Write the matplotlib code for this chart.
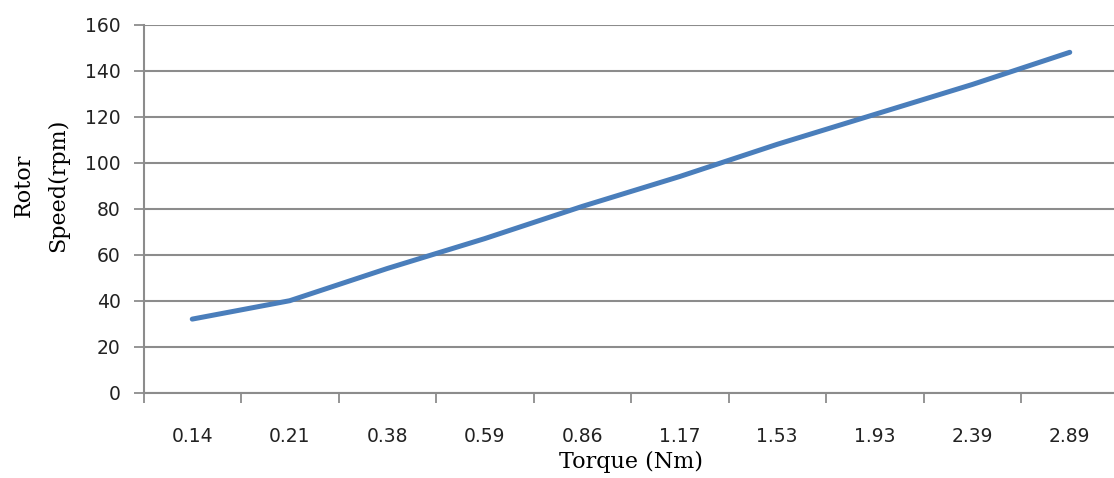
import matplotlib
matplotlib.use("Agg")
import matplotlib.pyplot as plt
import numpy as np

torque = ["0.14", "0.21", "0.38", "0.59", "0.86", "1.17", "1.53", "1.93", "2.39", "2.89"]
speed = [32, 40, 54, 67, 81, 94, 108, 121, 134, 148]

fig = plt.figure(figsize=(11.14, 4.78), dpi=100)
ax = fig.add_axes([143.5 / 1114, 85.3 / 478, 975 / 1114, 368 / 478])

x = np.arange(len(torque)) + 0.5
ax.plot(x, speed, color="#4a7ebb", linewidth=3.6, solid_capstyle="round", solid_joinstyle="round", zorder=3)

ax.set_xlim(0, len(torque))
ax.set_ylim(0, 160)
ax.set_yticks(range(0, 161, 20))
ax.yaxis.grid(True, color="#8c8c8c", linewidth=1.5)
ax.set_axisbelow(True)

# category boundaries get the tick marks, labels sit in between
ax.set_xticks(np.arange(len(torque) + 1))
ax.set_xticklabels([])
ax.set_xticks(x, minor=True)
ax.set_xticklabels(torque, minor=True)
ax.tick_params(axis="x", which="major", length=7, width=1.3, color="#8c8c8c")
ax.tick_params(axis="x", which="minor", length=0, pad=24.5, labelsize=13.5, labelcolor="#222222")
ax.tick_params(axis="y", length=7.5, width=1.3, color="#8c8c8c", labelsize=13.5, labelcolor="#222222", pad=9)

for s in ["top", "right"]:
    ax.spines[s].set_visible(False)
for s in ["left", "bottom"]:
    ax.spines[s].set_color("#8c8c8c")
    ax.spines[s].set_linewidth(1.5)

ax.set_xlabel("Torque (Nm)", family="DejaVu Serif", fontsize=16, labelpad=4)
ax.set_ylabel("Rotor\nSpeed(rpm)", family="DejaVu Serif", fontsize=16, linespacing=1.75)
ax.yaxis.set_label_coords(-0.076, 0.564)

fig.savefig("out.png", dpi=100)
